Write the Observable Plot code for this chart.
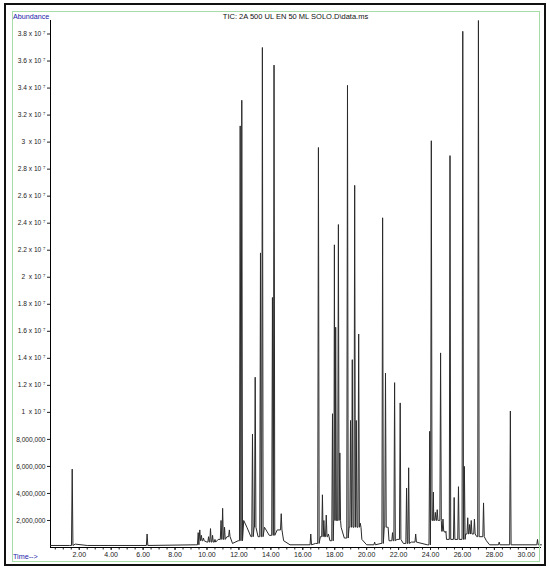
<!DOCTYPE html>
<html>
<head>
<meta charset="utf-8">
<script src="https://cdn.jsdelivr.net/npm/d3@7"></script>
<script src="https://cdn.jsdelivr.net/npm/@observablehq/plot@0.6"></script>
<style>
  html, body { margin: 0; padding: 0; background: #fff; }
  #wrap { position: relative; width: 550px; height: 570px; font-family: "Liberation Sans", Arial, sans-serif; }
  #wrap svg { position: absolute; left: 0; top: 0; }
  .deco { position: absolute; pointer-events: none; box-sizing: border-box; }
  .lbl { position: absolute; white-space: nowrap; font-size: 7.5px; line-height: 1; }
</style>
</head>
<body>
<div id="wrap"></div>
<script>
// ---- data ----
const title = "TIC: 2A 500 UL EN 50 ML SOLO.D\\data.ms";
const yLabel = "Abundance";
const xLabel = "Time-->";

// peak apex retention times (min) and heights (millions of counts)
const peakTime = [1.56, 6.25, 9.45, 9.55, 9.65, 9.78, 10.1, 10.22, 10.35, 10.5, 10.88, 10.98, 11.1, 11.4,
  12.08, 12.18, 12.85, 13.02, 13.35, 13.47, 14.1, 14.2, 14.65, 16.5, 16.98, 17.23, 17.32, 17.47, 17.6,
  17.86, 17.98, 18.06, 18.23, 18.32, 18.8, 18.99, 19.1, 19.25, 19.35, 19.5, 19.6, 20.5, 21.0, 21.18,
  21.3, 21.62, 21.75, 22.1, 22.5, 22.63, 23.07, 23.95, 24.05, 24.18, 24.3, 24.42, 24.52, 24.63, 24.78,
  24.92, 25.22, 25.48, 25.75, 26.02, 26.12, 26.33, 26.45, 26.55, 26.75, 27.0, 27.32, 28.3, 29.0, 30.7];
const peakHeight = [5.8, 1.0, 1.1, 1.3, 0.9, 0.7, 0.8, 1.4, 0.9, 0.6, 2.0, 2.9, 1.5, 1.3,
  31.2, 33.1, 8.4, 12.6, 21.8, 37.0, 18.5, 35.7, 2.5, 1.0, 29.6, 3.9, 2.0, 2.4, 1.0,
  9.9, 22.4, 16.3, 23.9, 7.0, 34.2, 9.4, 13.9, 26.8, 9.4, 15.8, 1.8, 0.4, 24.4, 12.9,
  1.5, 1.1, 12.2, 10.7, 4.4, 5.9, 1.0, 8.6, 30.1, 4.1, 2.6, 2.8, 2.0, 14.4, 2.1,
  1.1, 29.0, 3.7, 4.5, 38.2, 6.0, 2.2, 1.7, 2.0, 2.1, 39.0, 3.3, 0.4, 10.1, 0.6];

// baseline level between peaks (time in min, level in millions)
const baseTime  = [0.2, 1.4, 1.75, 2.5, 9.3, 9.5, 10.0, 10.7, 11.25, 11.6, 11.95, 12.3, 12.5, 12.75, 12.95, 13.2,
  13.6, 13.9, 14.4, 14.8, 15.2, 16.8, 17.1, 17.7, 17.95, 18.4, 18.6, 18.9, 19.7, 20.0, 20.9, 21.1, 21.4,
  21.9, 22.3, 22.8, 23.8, 24.0, 24.2, 24.7, 25.0, 26.2, 26.9, 27.5, 27.7, 30.95];
const baseLevel = [0.15, 0.15, 0.25, 0.15, 0.2, 0.5, 0.4, 0.6, 0.8, 0.3, 0.5, 2.0, 1.5, 0.8, 1.5, 0.8,
  1.5, 0.9, 1.3, 0.5, 0.2, 0.3, 0.8, 0.5, 2.0, 1.5, 0.7, 1.5, 0.6, 0.2, 0.3, 1.5, 0.5,
  0.6, 0.3, 0.4, 0.2, 2.0, 2.0, 1.2, 0.6, 1.0, 0.8, 0.5, 0.2, 0.2];

// axis ticks
const xTickLabels = [2, 4, 6, 8, 10, 12, 14, 16, 18, 20, 22, 24, 26, 28, 30];
const yTickValues = [2, 4, 6, 8, 10, 12, 14, 16, 18, 20, 22, 24, 26, 28, 30, 32, 34, 36, 38]; // millions

// ---- build trace ----
const HW = 0.045;
const levelAt = t => { let l = baseLevel[0]; for (let i = 0; i < baseTime.length; i++) if (baseTime[i] <= t) l = baseLevel[i]; return l; };
const trace = baseTime.map((t, i) => ({t, v: baseLevel[i]}));
peakTime.forEach((t, i) => {
  const b = levelAt(t);
  trace.push({t: t - HW, v: b}, {t, v: peakHeight[i]}, {t: t + HW, v: b});
});
trace.sort((a, b) => a.t - b.t);

const sup7 = "\u2077";
const yFmt = d => {
  if (d < 1e7) return d3.format(",")(d);
  const m = d / 1e7;
  return Number.isInteger(m) ? `${m}\u00a0\u00a0x 10 ${sup7}` : `${m} x 10 ${sup7}`;
};

const xDomain = [0.2, 30.95];
const chart = Plot.plot({
  width: 550,
  height: 570,
  marginLeft: 50,
  marginRight: 9,
  marginTop: 20,
  marginBottom: 23,
  style: {fontFamily: "'Liberation Sans', Arial, sans-serif", fontSize: "6.6px", background: "transparent", color: "#222"},
  x: {domain: xDomain},
  y: {domain: [0, 3.9e7]},
  marks: [
    Plot.axisY(yTickValues.map(d => d * 1e6), {tickFormat: yFmt, tickSize: 3, tickPadding: 2, label: null}),
    Plot.axisX(d3.range(0.5, 31, 0.5), {tickFormat: () => "", tickSize: 2.5, label: null}),
    Plot.axisX(xTickLabels, {tickFormat: d => d.toFixed(2), tickSize: 3, tickPadding: 2, label: null, fontSize: 7}),
    Plot.ruleX([xDomain[0]], {stroke: "#000", strokeWidth: 1}),
    Plot.ruleY([0], {stroke: "#000", strokeWidth: 1}),
    Plot.line(trace, {x: "t", y: d => d.v * 1e6, stroke: "#2a2a2a", strokeWidth: 1})
  ]
});

const wrap = document.getElementById("wrap");
wrap.appendChild(chart);

function addDiv(cls, css, text) {
  const d = document.createElement("div");
  d.className = cls;
  d.style.cssText = css;
  if (text != null) d.textContent = text;
  wrap.appendChild(d);
  return d;
}
addDiv("deco", "left:4px;top:3px;width:542px;height:563px;border:2px solid #111;");
addDiv("deco", "left:12px;top:11px;width:528px;height:551px;border:1.5px solid #a8dca8;");
addDiv("lbl", "left:50px;width:491px;text-align:center;top:13px;color:#111;", title);
addDiv("lbl", "left:13px;top:12.5px;color:#1a22a8;font-size:7.2px;", yLabel);
addDiv("lbl", "left:13px;top:553px;color:#1a22a8;font-size:7.2px;", xLabel);
</script>
</body>
</html>
